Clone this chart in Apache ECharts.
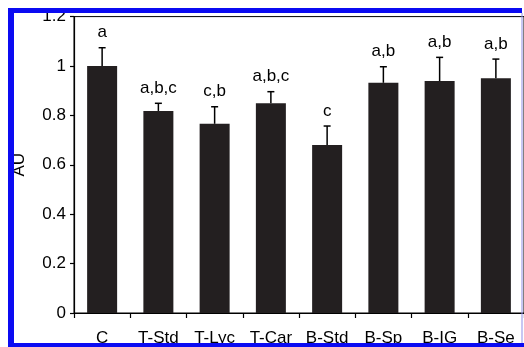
<!DOCTYPE html>
<html>
<head>
<meta charset="utf-8">
<script src="https://cdn.jsdelivr.net/npm/echarts@6/dist/echarts.min.js"></script>
<style>
html,body{margin:0;padding:0;background:#fff;}
#c{width:524px;height:347px;}
</style>
</head>
<body>
<div id="c"></div>
<script>
var categories = ['C', 'T-Std', 'T-Lyc', 'T-Car', 'B-Std', 'B-Sp', 'B-IG', 'B-Se'];
var means = [1.0, 0.818, 0.766, 0.849, 0.680, 0.932, 0.939, 0.950];
var errors = [0.074, 0.031, 0.069, 0.047, 0.077, 0.065, 0.096, 0.078];
var letters = ['a', 'a,b,c', 'c,b', 'a,b,c', 'c', 'a,b', 'a,b', 'a,b'];
var yTicks = [0, 0.2, 0.4, 0.6, 0.8, 1.0, 1.2];

var FONT = '"Liberation Sans", Arial, Helvetica, sans-serif';
var BLUE = '#0b0bf2';

var chart = echarts.init(document.getElementById('c'), null, {renderer: 'canvas'});

var errData = categories.map(function (c, i) { return [i, means[i], errors[i]]; });

chart.setOption({
  animation: false,
  backgroundColor: '#fff',
  grid: {
    left: 74, top: 16.6, width: 453, height: 296.4,
    show: true, borderColor: '#000', borderWidth: 1, backgroundColor: 'transparent'
  },
  xAxis: {
    type: 'category',
    data: categories,
    axisLine: {lineStyle: {color: '#000', width: 1}},
    axisTick: {show: true, length: 5, lineStyle: {color: '#000', width: 1.2}},
    axisLabel: {color: '#000', fontSize: 17, fontFamily: FONT, margin: 17}
  },
  yAxis: {
    type: 'value',
    min: yTicks[0], max: yTicks[yTicks.length - 1], interval: 0.2,
    name: 'AU',
    nameLocation: 'middle',
    nameGap: 46,
    nameTextStyle: {color: '#000', fontSize: 17, fontFamily: FONT},
    axisLine: {show: true, lineStyle: {color: '#000', width: 1.2}},
    axisTick: {show: true, length: 4, lineStyle: {color: '#000', width: 1.2}},
    axisLabel: {color: '#000', fontSize: 17, fontFamily: FONT, margin: 8},
    splitLine: {show: false}
  },
  series: [
    {
      type: 'bar',
      data: means,
      barWidth: 30,
      itemStyle: {color: '#231f20'},
      z: 2
    },
    {
      type: 'custom',
      data: errData,
      z: 3,
      renderItem: function (params, api) {
        var x = api.value(0), v = api.value(1), e = api.value(2);
        var p0 = api.coord([x, v]);
        var p1 = api.coord([x, v + e]);
        var cap = 3.5;
        return {
          type: 'group',
          children: [
            {type: 'line', shape: {x1: p0[0], y1: p0[1], x2: p1[0], y2: p1[1]}, style: {stroke: '#000', lineWidth: 1.5}},
            {type: 'line', shape: {x1: p1[0] - cap, y1: p1[1], x2: p1[0] + cap, y2: p1[1]}, style: {stroke: '#000', lineWidth: 1.5}},
            {type: 'text', x: p1[0], y: p1[1] - 15, style: {text: letters[params.dataIndex], fill: '#000', font: '17px ' + FONT, align: 'center', verticalAlign: 'middle'}}
          ]
        };
      }
    }
  ],
  graphic: {
    elements: [
      {type: 'rect', z: 100, shape: {x: 8, y: 8, width: 514, height: 5}, style: {fill: BLUE}},
      {type: 'rect', z: 100, shape: {x: 8, y: 8, width: 6, height: 339}, style: {fill: BLUE}},
      {type: 'rect', z: 100, shape: {x: 8, y: 343, width: 516, height: 4}, style: {fill: BLUE}},
      {type: 'rect', z: 100, shape: {x: 521.5, y: 13, width: 1, height: 330}, style: {fill: '#8f8fe8'}}
    ]
  }
});
</script>
</body>
</html>
